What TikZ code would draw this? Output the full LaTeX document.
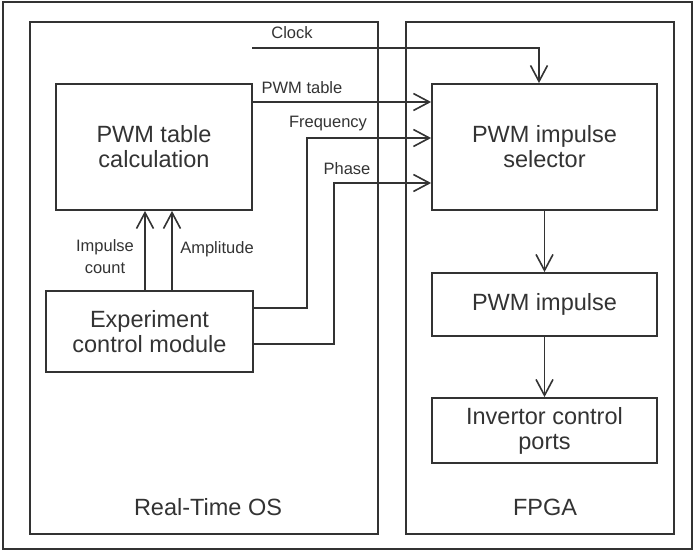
\documentclass[tikz,border=0pt]{standalone}
\usepackage{fontspec}
\setmainfont{Liberation Sans}
\usetikzlibrary{arrows.meta}
\definecolor{ink}{HTML}{333333}
\begin{document}
\begin{tikzpicture}[x=1pt,y=-1pt,
  line width=1.8pt, draw=ink, text=ink,
  panel/.style={draw=ink, line width=1.8pt, rectangle, inner sep=0pt},
  blk/.style={draw=ink, line width=1.8pt, rectangle, inner sep=0pt, align=center,
    font=\fontsize{23.5}{25}\selectfont},
  small/.style={font=\fontsize{16.5}{22}\selectfont, align=center, inner sep=0pt},
  big/.style={font=\fontsize{23.5}{25}\selectfont, inner sep=0pt},
  arr/.style={draw=ink, line width=1.7pt, -{Straight Barb[length=16pt,width=17pt,line width=1.6pt]}},
  wire/.style={draw=ink, line width=1.7pt}]
\useasboundingbox (0,0) rectangle (695,551);
\draw[line width=1.3pt, draw=ink] (3,2) rectangle (692,549);
% panels
\node[panel, minimum width=348pt, minimum height=512pt] (rtos) at (204,278) {};
\node[panel, minimum width=268pt, minimum height=512pt] (fpga) at (540,278) {};
\node[big] (rtosl) at (208,507) {Real-Time OS};
\node[big] (fpgal) at (545,507) {FPGA};
% blocks
\node[blk, minimum width=196pt, minimum height=126pt] (calc) at (154,147) {PWM table\\calculation};
\node[blk, minimum width=207pt, minimum height=81pt] (ecm) at (149.5,331.5) {Experiment\\control module};
\node[blk, minimum width=225pt, minimum height=126pt] (sel) at (544.5,147) {PWM impulse\\selector};
\node[blk, minimum width=225pt, minimum height=63pt] (imp) at (544.5,304.5) {PWM impulse};
\node[blk, minimum width=225pt, minimum height=65pt] (inv) at (544.5,430.5) {Invertor control\\ports};
% helper coordinates
\coordinate (xa) at (145,0);
\coordinate (xb) at (172,0);
\coordinate (clk) at (252,48);
\coordinate (xc) at (539,0);
\coordinate (yt) at (0,102);
\coordinate (yf) at (0,138);
\coordinate (yfe) at (0,308);
\coordinate (xf) at (307,0);
\coordinate (yp) at (0,183);
\coordinate (ype) at (0,344);
\coordinate (xp) at (334,0);
% connectors
\draw[arr] (ecm.north -| xa) -- (calc.south -| xa);
\draw[arr] (ecm.north -| xb) -- (calc.south -| xb);
\draw[arr] (clk) -| (sel.north -| xc);
\draw[arr] (calc.east |- yt) -- (sel.west |- yt);
\draw[arr] (ecm.east |- yfe) -| (xf |- yf) -- (sel.west |- yf);
\draw[arr] (ecm.east |- ype) -| (xp |- yp) -- (sel.west |- yp);
\draw[arr] (sel.south) -- (imp.north);
\draw[arr] (imp.south) -- (inv.north);
% labels
\node[small] (lclk) at (292,33) {Clock};
\node[small] (ltab) at (302,88) {PWM table};
\node[small] (lfrq) at (328,124) {Frequency};
\node[small] (lph) at (347,169) {Phase};
\node[small] (limp) at (105,257) {Impulse\\count};
\node[small] (lamp) at (217,249) {Amplitude};
\end{tikzpicture}
\end{document}
